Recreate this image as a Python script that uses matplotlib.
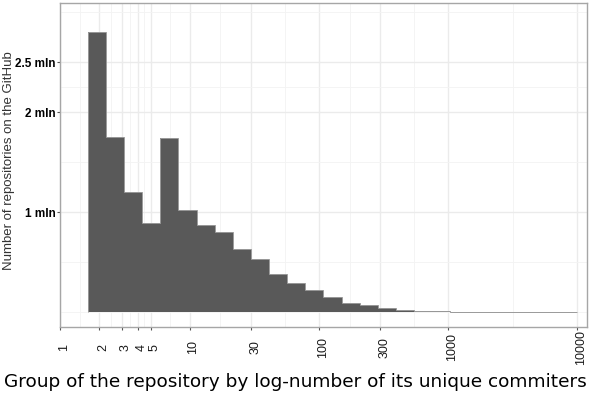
import numpy as np
import matplotlib
matplotlib.use("Agg")
import matplotlib.pyplot as plt
import matplotlib.transforms as mtransforms

# histogram of repositories, 27 log10 bins of unique commiters (values in mln)
repos_mln = [2.806, 1.750, 1.200, 0.892, 1.740, 1.022, 0.870, 0.806, 0.630,
             0.533, 0.388, 0.292, 0.225, 0.155, 0.098, 0.070, 0.046, 0.026,
             0.017, 0.010, 0.003, 0.002, 0.0015, 0.001, 0.0006, 0.0004, 0.0003]
bin_lo_log10 = 0.212   # first bin edge, log10 scale
bin_hi_log10 = 4.0     # last bin edge, log10 scale

x_breaks = [1, 2, 3, 4, 5, 10, 30, 100, 300, 1000, 10000]
x_labels = ["1", "2", "3", "4", "5", "10", "30", "100", "300", "1000", "10000"]
y_breaks = [1, 2, 2.5]
y_labels = ["1 mln", "2 mln", "2.5 mln"]

edges = 10 ** np.linspace(bin_lo_log10, bin_hi_log10, len(repos_mln) + 1)

fig = plt.figure(figsize=(5.92, 3.94), dpi=100)
ax = fig.add_axes([60.3 / 592, 67 / 394, (587 - 60.3) / 592, (327 - 3.3) / 394])

ax.set_xscale("log")
ax.set_xlim(1, 10 ** ((587 - 60.3) / 129.25))
ax.set_ylim(-0.147, 3.09)

# grid (major + minor like ggplot theme_bw)
lb = np.log10(x_breaks)
for v in x_breaks:
    ax.axvline(v, color="#ebebeb", lw=1.0, zorder=0)
for a, b in zip(lb[:-1], lb[1:]):
    ax.axvline(10 ** ((a + b) / 2), color="#f3f3f3", lw=0.6, zorder=0)
for v in y_breaks:
    ax.axhline(v, color="#ebebeb", lw=1.0, zorder=0)
for v in [0, 0.5, 1.5, 2.25, 3.0]:
    ax.axhline(v, color="#f3f3f3", lw=0.6, zorder=0)

ax.bar(edges[:-1], repos_mln, width=np.diff(edges), align="edge",
       color="#595959", linewidth=0, zorder=2)
ax.stairs(repos_mln, edges, baseline=0, color="#9a9a9a", linewidth=0.7, zorder=3)

ax.set_xticks(x_breaks)
ax.set_xticklabels(x_labels, rotation=90, fontsize=9, family="Liberation Sans")
ax.xaxis.set_minor_locator(matplotlib.ticker.NullLocator())
ax.tick_params(axis="x", length=2.5, width=0.8, color="#555555", pad=12, labelcolor="#1a1a1a")
offset = mtransforms.ScaledTranslation(4 / 100, 0, fig.dpi_scale_trans)
for lab in ax.get_xticklabels():
    lab.set_verticalalignment("center")
    lab.set_transform(lab.get_transform() + offset)

ax.set_yticks(y_breaks)
ax.set_yticklabels(y_labels, fontsize=8.5, fontweight="bold", family="Liberation Sans")
ax.tick_params(axis="y", length=2.5, width=0.8, color="#555555", pad=0.8, labelcolor="black")

for s in ax.spines.values():
    s.set_color("#a6a6a6")
    s.set_linewidth(1.0)

fig.text(9.5 / 592, 1 - 161 / 394, "Number of repositories on the GitHub",
         rotation=90, ha="center", va="center", fontsize=9.5,
         family="Liberation Sans", color="#333333")
fig.text(4 / 592, 7 / 394, "Group of the repository by log-number of its unique commiters",
         ha="left", va="baseline", fontsize=13.3, family="DejaVu Sans", color="black")

fig.savefig("out.png", dpi=100)
